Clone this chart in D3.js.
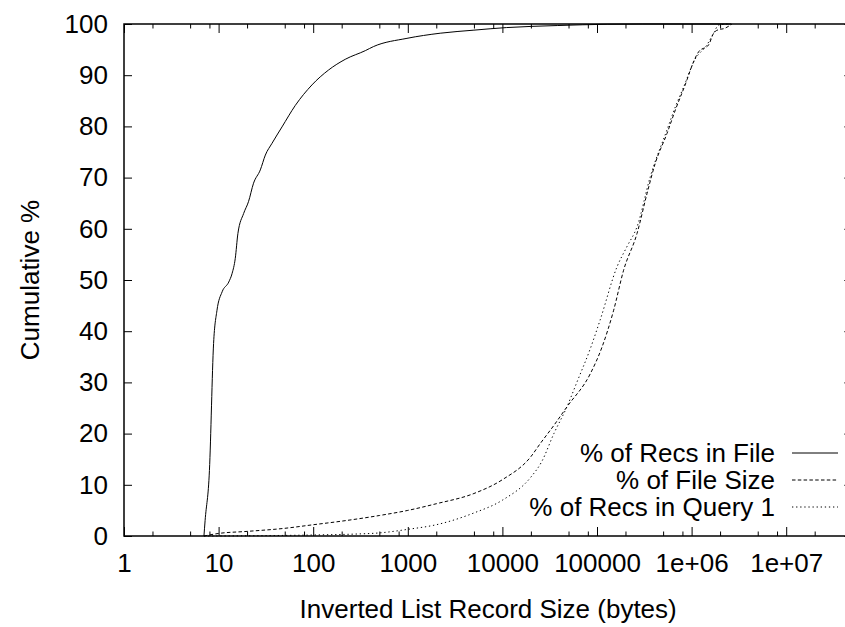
<!DOCTYPE html>
<html>
<head>
<meta charset="utf-8">
<script src="https://cdnjs.cloudflare.com/ajax/libs/d3/7.8.5/d3.min.js"></script>
<style>
  body { margin: 0; background: #fff; }
  svg text { font-family: "Liberation Sans", Arial, Helvetica, sans-serif; font-size: 26px; fill: #000; }
</style>
</head>
<body>
<svg width="845" height="627"></svg>
<script>
// record size (bytes) / cumulative % for each series
var recsFileSize = [7, 7.2, 8, 8.85, 9.6, 10.9, 12.8, 13.9, 15, 16, 18.4, 20.7, 23.4, 27.6, 31.2, 36.7, 46.8, 64.7, 97, 145, 218, 356, 435, 980, 2200, 5000, 11000, 38000, 128000, 300000, 2600000];
var recsFilePct  = [0, 3, 12.8, 37.6, 44, 47.7, 49.6, 51.3, 54.2, 59.1, 63, 65.3, 68.9, 71.5, 74.4, 76.7, 79.9, 84.1, 88.1, 91, 93.1, 94.8, 95.6, 97.2, 98.2, 98.8, 99.3, 99.7, 99.95, 100, 100];

var fileSizeSize = [7, 10, 20, 50, 100, 200, 500, 1000, 2000, 5000, 10000, 20000, 25000, 35000, 48000, 85000, 113000, 150000, 191000, 265000, 338000, 413000, 549000, 673000, 894000, 970000, 1190000, 1510000, 1710000, 1930000, 2200000, 2670000];
var fileSizePct  = [0, 0.5, 0.9, 1.5, 2.2, 2.9, 4, 5, 6.3, 8.3, 11, 15.5, 18, 21.6, 25.2, 31.7, 36.9, 44.1, 51.9, 59.1, 66.9, 72.8, 78.6, 83.2, 89.1, 91, 94.6, 95.9, 98.2, 98.9, 99.1, 100];

var query1Size = [7, 100, 300, 500, 1000, 2000, 5000, 10000, 20000, 26000, 35000, 48000, 61500, 85000, 108000, 163000, 207000, 265000, 366000, 549000, 673000, 824000, 1080000, 1450000, 1710000, 1930000, 2600000];
var query1Pct  = [0, 0.2, 0.4, 0.6, 1.3, 2.2, 4.5, 7, 11.5, 14.5, 20, 25.2, 30.1, 36.6, 42.2, 52.6, 56.5, 60.4, 70.2, 79.3, 83.8, 87.7, 93, 95.9, 98.2, 99.8, 100];

var seriesNames = ["% of Recs in File", "% of File Size", "% of Recs in Query 1"];
var xTicks = [1, 10, 100, 1000, 10000, 100000, 1e6, 1e7];
var yTicks = [0, 10, 20, 30, 40, 50, 60, 70, 80, 90, 100];

var svg = d3.select("svg");
var plotLeft = 124, plotTop = 24, plotBottom = 536;
var plotRight = plotLeft + 94.6 * Math.log10(5e7);

var x = d3.scaleLog().domain([1, 5e7]).range([plotLeft, plotRight]);
var y = d3.scaleLinear().domain([0, 100]).range([plotBottom, plotTop]);

// minor ticks at 2, 5, 8 of each decade (like the original)
var xMinor = [];
xTicks.forEach(function (d) {
  [2, 5, 8].forEach(function (m) { if (d * m < 5e7) xMinor.push(d * m); });
});

function fmtX(d) {
  if (d >= 1e6) return "1e+0" + Math.round(Math.log10(d));
  return String(d);
}

svg.append("rect").attr("width", 845).attr("height", 627).attr("fill", "#fff");

// bottom axis
svg.append("g").attr("transform", "translate(0," + plotBottom + ")")
  .call(d3.axisBottom(x).tickValues(xTicks).tickFormat(fmtX).tickSizeInner(-9).tickSizeOuter(0).tickPadding(18));
svg.append("g").attr("transform", "translate(0," + plotBottom + ")")
  .call(d3.axisBottom(x).tickValues(xMinor).tickFormat("").tickSizeInner(-4.5).tickSizeOuter(0));
// top mirror
svg.append("g").attr("transform", "translate(0," + plotTop + ")")
  .call(d3.axisTop(x).tickValues(xTicks).tickFormat("").tickSizeInner(-9).tickSizeOuter(0));
svg.append("g").attr("transform", "translate(0," + plotTop + ")")
  .call(d3.axisTop(x).tickValues(xMinor).tickFormat("").tickSizeInner(-4.5).tickSizeOuter(0));

// left / right
svg.append("g").attr("transform", "translate(" + plotLeft + ",0)")
  .call(d3.axisLeft(y).tickValues(yTicks).tickSizeInner(-8).tickSizeOuter(0).tickPadding(16));
svg.append("g").attr("transform", "translate(" + plotRight + ",0)")
  .call(d3.axisRight(y).tickValues(yTicks).tickFormat("").tickSizeInner(-8).tickSizeOuter(0));

svg.selectAll(".domain").remove();
svg.selectAll(".tick line").attr("stroke", "#000").attr("stroke-width", 1);
svg.selectAll("g").attr("font-size", null).attr("font-family", null);

svg.append("rect")
  .attr("x", plotLeft).attr("y", plotTop)
  .attr("width", plotRight - plotLeft).attr("height", plotBottom - plotTop)
  .attr("fill", "none").attr("stroke", "#000").attr("stroke-width", 1.5);

// curves
var line = d3.line()
  .x(function (d) { return x(d[0]); })
  .y(function (d) { return y(d[1]); })
  .curve(d3.curveMonotoneX);

var series = [
  { name: seriesNames[0], data: d3.zip(recsFileSize, recsFilePct), dash: null },
  { name: seriesNames[1], data: d3.zip(fileSizeSize, fileSizePct), dash: "3.5,2.3" },
  { name: seriesNames[2], data: d3.zip(query1Size, query1Pct), dash: "1.3,2.8" }
];

svg.append("g").selectAll("path")
  .data(series)
  .enter().append("path")
  .attr("d", function (d) { return line(d.data); })
  .attr("fill", "none")
  .attr("stroke", "#000")
  .attr("stroke-width", 1)
  .attr("stroke-dasharray", function (d) { return d.dash; });

// legend
var legend = svg.append("g").selectAll("g")
  .data(series)
  .enter().append("g")
  .attr("transform", function (d, i) { return "translate(0," + (453 + i * 27) + ")"; });

legend.append("text")
  .attr("x", 775)
  .attr("dy", "0.35em")
  .attr("text-anchor", "end")
  .text(function (d) { return d.name; });

legend.append("line")
  .attr("x1", 792).attr("x2", 838)
  .attr("stroke", "#000").attr("stroke-width", 1)
  .attr("stroke-dasharray", function (d) { return d.dash; });

// axis titles
svg.append("text")
  .attr("transform", "translate(39,280) rotate(-90)")
  .attr("text-anchor", "middle")
  .text("Cumulative %");

svg.append("text")
  .attr("x", (plotLeft + plotRight) / 2)
  .attr("y", 618)
  .attr("text-anchor", "middle")
  .text("Inverted List Record Size (bytes)");
</script>
</body>
</html>
